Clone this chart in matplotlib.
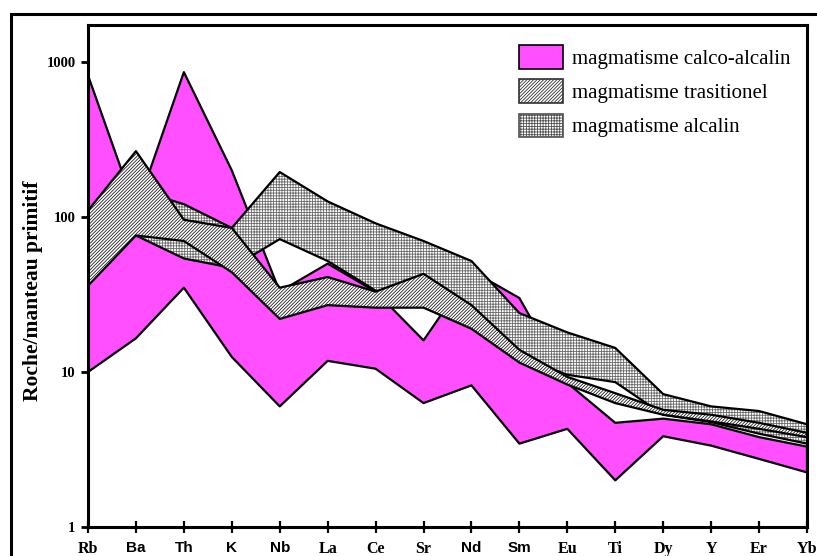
import numpy as np
import matplotlib
matplotlib.use("Agg")
import matplotlib.pyplot as plt
from matplotlib.patches import Patch, Rectangle

elements = ['Rb', 'Ba', 'Th', 'K', 'Nb', 'La', 'Ce', 'Sr', 'Nd', 'Sm',
            'Eu', 'Ti', 'Dy', 'Y', 'Er', 'Yb']
sans_labels = {'Ba', 'Th', 'K', 'Nb', 'Nd', 'Sm'}

# calco-alcalin field (Rb..Yb)
calc_upper = [820, 110, 860, 200, 33, 50, 33, 16, 45, 30, 8.5, 4.7, 5.0, 4.6, 3.8, 3.3]
calc_lower = [10, 16.5, 35, 12.5, 6.0, 11.8, 10.5, 6.3, 8.2, 3.45, 4.3, 2.0, 3.85, 3.35, 2.75, 2.25]

# transitional field (Rb..Yb)
trans_upper = [110, 266, 96, 85, 35, 41, 33, 43, 27, 13.9, 9.3, 7.3, 5.7, 5.3, 4.7, 4.05]
trans_lower = [36, 76, 70, 44, 22, 27, 26, 26, 19, 11.5, 8.3, 6.3, 5.3, 4.8, 4.3, 3.8]

# alkaline field (Ba..Yb)
alk_upper = [150, 121, 85, 195, 126, 91, 70, 52, 24, 18, 14.3, 7.2, 6.0, 5.6, 4.6]
alk_lower = [76, 54, 47, 72, 52, 33.5, 30, 22, 12.5, 9.6, 8.6, 5.3, 4.75, 4.0, 3.45]

legend_labels = ['magmatisme calco-alcalin', 'magmatisme trasitionel', 'magmatisme alcalin']

magenta = '#ff4fff'
trans_hatch = '//////////'
alk_hatch = '++++++'
plt.rcParams['hatch.linewidth'] = 0.6

W, H = 817, 556
fig = plt.figure(figsize=(W / 100, H / 100), dpi=100)
ax = fig.add_axes([88 / W, 1 - 527 / H, (807 - 88) / W, (527 - 25) / H])

x = np.arange(len(elements))
x_alk = x[1:]


def band(xs, lo, hi, z, face, hatch=None, hatch_col='black'):
    # hatch drawn with its own colour, outline drawn on top in black
    ax.fill_between(xs, lo, hi, facecolor=face, edgecolor=hatch_col, hatch=hatch, lw=0, zorder=z)
    ax.fill_between(xs, lo, hi, facecolor='none', edgecolor='black', lw=1.6, zorder=z)


band(x, calc_lower, calc_upper, 2, magenta)
band(x_alk, alk_lower, alk_upper, 3, 'white', alk_hatch, '#6a6a6a')
band(x, trans_lower, trans_upper, 4, 'white', trans_hatch, '#202020')

ax.set_yscale('log')
ax.set_ylim(1, 10 ** ((527 - 25) / 155))
ax.set_xlim(0, len(elements) - 1)
ax.set_yticks([1, 10, 100, 1000])
ax.set_yticklabels(['1', '10', '100', '1000'])
ax.minorticks_off()
ax.set_xticks(x)
ax.set_xticklabels(elements)

for lab in ax.get_yticklabels():
    lab.set_fontfamily('Liberation Serif')
    lab.set_fontweight('bold')
    lab.set_fontsize(10.5)
for lab in ax.get_xticklabels():
    if lab.get_text() in sans_labels:
        lab.set_fontfamily('Liberation Sans')
        lab.set_fontsize(11)
    else:
        lab.set_fontfamily('Liberation Serif')
        lab.set_fontsize(11.5)
    lab.set_fontweight('bold')

ax.tick_params(axis='y', direction='out', length=5, width=2, pad=4)
ax.tick_params(axis='x', direction='inout', length=8, width=1.6, pad=6)
for sp in ax.spines.values():
    sp.set_linewidth(2.2)
    sp.set_zorder(6)

ax.set_ylabel('Roche/manteau primitif', fontfamily='Liberation Serif',
              fontweight='bold', fontsize=15.5)
ax.yaxis.set_label_coords(-0.063, 0.47)

handles = [Patch(facecolor=magenta, edgecolor='black', lw=1.2),
           Patch(facecolor='white', edgecolor='#303030', hatch=trans_hatch, lw=1.2),
           Patch(facecolor='white', edgecolor='#505050', hatch=alk_hatch, lw=1.2)]
fig.legend(handles, legend_labels, loc='upper left',
           bbox_to_anchor=(509 / W, 1 - 35 / H), bbox_transform=fig.transFigure,
           frameon=False, borderpad=0, handlelength=2.1, handleheight=1.35,
           labelspacing=0.5, handletextpad=0.4,
           prop={'family': 'Liberation Serif', 'size': 15})

fig.add_artist(Rectangle((11 / W, -0.1), 1.2, (H - 14) / H + 0.1,
                         transform=fig.transFigure, fill=False, lw=2.2,
                         edgecolor='black', clip_on=False))

fig.savefig('out.png', dpi=100)
